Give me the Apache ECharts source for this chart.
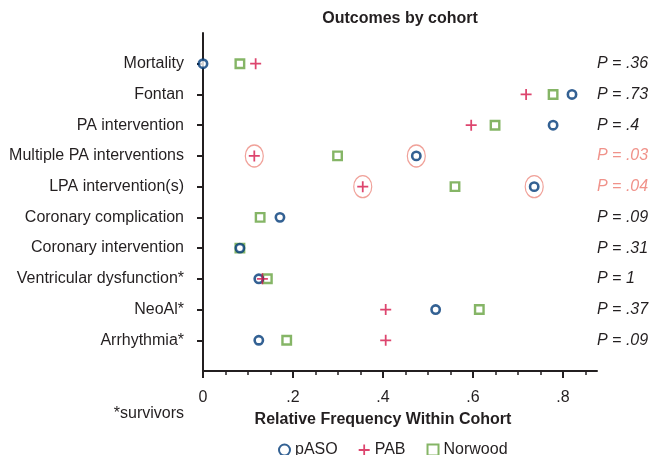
<!DOCTYPE html>
<html>
<head>
<meta charset="utf-8">
<script src="https://cdn.jsdelivr.net/npm/echarts@6/dist/echarts.min.js"></script>
<style>html,body{margin:0;padding:0;background:#fff}#c{width:649px;height:455px}</style>
</head>
<body>
<div id="c"></div>
<script>
var outcomes = ['Mortality','Fontan','PA intervention','Multiple PA interventions','LPA intervention(s)','Coronary complication','Coronary intervention','Ventricular dysfunction*','NeoAl*','Arrhythmia*'];
var pASO    = [0.000, 0.820, 0.778, 0.474, 0.736, 0.171, 0.082, 0.124, 0.517, 0.124];
var PAB     = [0.117, 0.718, 0.596, 0.114, 0.355, null,  null,  0.132, 0.406, 0.406];
var Norwood = [0.082, 0.778, 0.649, 0.299, 0.560, 0.127, 0.082, 0.143, 0.614, 0.186];
var pValues = ['.36','.73','.4','.03','.04','.09','.31','1','.37','.09'];
var significantRows = [3, 4];
var highlighted = [['PAB',3],['pASO',3],['PAB',4],['pASO',4]];
var xTickLabels = ['0','.2','.4','.6','.8'];

var cohorts = {pASO: pASO, PAB: PAB, Norwood: Norwood};
var cats = [''].concat(outcomes).concat(['']);
function pts(arr){ var o=[]; arr.forEach(function(v,i){ if(v!==null) o.push([v, i+1]); }); return o; }
var hl = highlighted.map(function(h){ return [cohorts[h[0]][h[1]], h[1]+1]; });

var FONT = 'Liberation Sans';
var INK = '#231f20';
var FS = 16;
var PX = 450; // px per unit
var L = 203, T = 33, H = 338;

var chart = echarts.init(document.getElementById('c'));
function hiddenY(gi){ return {type:'category', gridIndex:gi, data:cats, inverse:true, boundaryGap:false, show:false}; }
chart.setOption({
  backgroundColor:'#fff',
  animation:false,
  textStyle:{fontFamily:FONT},
  title:[
    {text:'Outcomes by cohort', left:395, top:6, textAlign:'center',
     textStyle:{fontFamily:FONT, fontSize:FS, fontWeight:'bold', color:INK}},
    {text:'*survivors', left:179, top:401, textAlign:'right',
     textStyle:{fontFamily:FONT, fontSize:FS, fontWeight:'normal', color:INK}}
  ],
  legend:{
    data:['pASO','PAB','Norwood'], left:273, top:437, itemWidth:11, itemHeight:11, itemGap:21,
    textStyle:{fontFamily:FONT, fontSize:FS, color:INK}
  },
  grid:[
    {left:L, top:T, width:394, height:H, outerBoundsMode:'none', containLabel:false},
    {left:L, top:T, width:0.85*PX, height:H, outerBoundsMode:'none', containLabel:false},
    {left:L, top:T, width:0.8*PX, height:H, outerBoundsMode:'none', containLabel:false}
  ],
  xAxis:[
    {type:'value', gridIndex:0, min:0, max:394/PX, splitLine:{show:false},
     axisLine:{show:true, lineStyle:{color:INK, width:2}}, axisTick:{show:false}, axisLabel:{show:false}},
    {type:'value', gridIndex:1, min:0, max:0.85, interval:0.05, splitLine:{show:false},
     axisLine:{show:false}, axisTick:{show:true, length:4, lineStyle:{color:INK, width:1.5}}, axisLabel:{show:false}},
    {type:'value', gridIndex:2, min:0, max:0.8, interval:0.2, splitLine:{show:false},
     axisLine:{show:false}, axisTick:{show:true, length:7, lineStyle:{color:INK, width:2}},
     axisLabel:{margin:19, fontFamily:FONT, fontSize:FS, color:INK,
       formatter:function(v){ return xTickLabels[Math.round(v/0.2)]; }},
     name:'Relative Frequency Within Cohort', nameLocation:'middle', nameGap:41,
     nameTextStyle:{fontFamily:FONT, fontSize:FS, fontWeight:'bold', color:INK}}
  ],
  yAxis:[
    {type:'category', gridIndex:0, data:cats, inverse:true, boundaryGap:false,
     axisLine:{show:true, lineStyle:{color:INK, width:2}},
     axisTick:{show:true, length:6, lineStyle:{color:INK, width:2}, interval:function(i){ return i>0 && i<cats.length-1; }},
     axisLabel:{margin:19, fontFamily:FONT, fontSize:FS, color:INK, interval:0}},
    {type:'category', gridIndex:0, position:'right', data:cats, inverse:true, boundaryGap:false,
     axisLine:{show:false}, axisTick:{show:false},
     axisLabel:{margin:0, interval:0, fontFamily:FONT, fontSize:FS, fontStyle:'italic', color:INK,
       formatter:function(v, i){
         if(i<1 || i>outcomes.length) return '';
         var k=i-1; var s='P = '+pValues[k];
         return significantRows.indexOf(k)>=0 ? '{s|'+s+'}' : '{n|'+s+'}';
       },
       rich:{n:{color:INK, fontFamily:FONT, fontSize:FS, fontStyle:'italic'},
             s:{color:'#f0928a', fontFamily:FONT, fontSize:FS, fontStyle:'italic'}}}},
    hiddenY(1), hiddenY(2)
  ],
  series:[
    {name:'Norwood', type:'scatter', xAxisIndex:0, yAxisIndex:0, clip:false, data:pts(Norwood),
     symbol:'rect', symbolSize:8.5, itemStyle:{color:'#fff', borderColor:'#66a340', borderWidth:2.4}},
    {name:'pASO', type:'scatter', xAxisIndex:0, yAxisIndex:0, clip:false, data:pts(pASO),
     symbol:'circle', symbolSize:8.3, itemStyle:{color:'#fff', borderColor:'#003a78', borderWidth:2.6}},
    {name:'PAB', type:'scatter', xAxisIndex:0, yAxisIndex:0, clip:false, data:pts(PAB),
     symbol:'path://M4.2,0H5.8V4.2H10V5.8H5.8V10H4.2V5.8H0V4.2H4.2Z', symbolSize:11,
     itemStyle:{color:'#d4164a'}},
    {name:'highlight', type:'scatter', xAxisIndex:0, yAxisIndex:0, clip:false, data:hl,
     symbol:'circle', symbolSize:[18,22], silent:true,
     itemStyle:{color:'rgba(0,0,0,0)', borderColor:'#ec8a80', borderWidth:1.3}}
  ]
});
</script>
</body>
</html>
